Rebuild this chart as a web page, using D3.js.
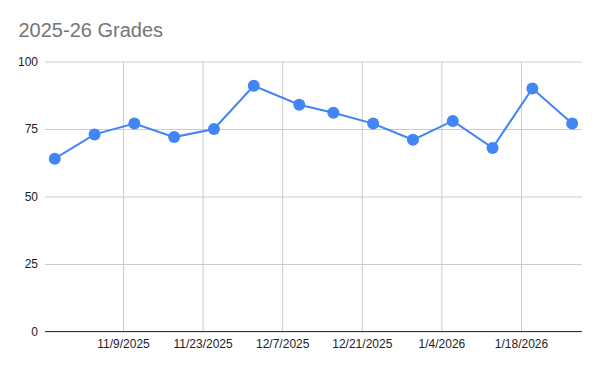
<!DOCTYPE html>
<html>
<head>
<meta charset="utf-8">
<script src="https://cdn.jsdelivr.net/npm/d3@7"></script>
<style>
  body { margin: 0; background: #fff; }
  text { font-family: "Liberation Sans", Arial, sans-serif; }
</style>
</head>
<body>
<div id="chart"></div>
<script>
// Data
var dates = ["2025-10-28", "2025-11-04", "2025-11-11", "2025-11-18", "2025-11-25", "2025-12-02",
  "2025-12-10", "2025-12-16", "2025-12-23", "2025-12-30", "2026-01-06", "2026-01-13",
  "2026-01-20", "2026-01-27"];
var grades = [64, 73, 77, 72, 75, 91, 84, 81, 77, 71, 78, 68, 90, 77];
var xTickDates = ["2025-11-09", "2025-11-23", "2025-12-07", "2025-12-21", "2026-01-04", "2026-01-18"];
var yTicks = [0, 25, 50, 75, 100];

var svgWidth = 600;
var svgHeight = 371;

var plot = { left: 45, right: 582, top: 61.5, bottom: 331.5 };

var parse = d3.utcParse("%Y-%m-%d");
var fmt = function(d) {
  return (d.getUTCMonth() + 1) + "/" + d.getUTCDate() + "/" + d.getUTCFullYear();
};

var svg = d3.select("#chart")
  .append("svg")
  .attr("width", svgWidth)
  .attr("height", svgHeight);

// title
svg.append("text")
  .attr("x", 18.5)
  .attr("y", 37)
  .attr("fill", "#757575")
  .style("font-size", "20px")
  .text("2025-26 Grades");

// x scale: calibrated so 11/9 and 1/18 sit on their gridlines
var xCal = d3.scaleUtc()
  .domain([parse(xTickDates[0]), parse(xTickDates[5])])
  .range([123, 521]);
var x = d3.scaleUtc()
  .domain([xCal.invert(plot.left), xCal.invert(plot.right)])
  .range([plot.left, plot.right]);

var y = d3.scaleLinear()
  .domain([0, 100])
  .range([plot.bottom, plot.top]);

// horizontal grid + y labels
var yAxis = d3.axisLeft(y)
  .tickValues(yTicks)
  .tickSize(-(plot.right - plot.left))
  .tickPadding(7);

var yg = svg.append("g")
  .attr("transform", `translate(${plot.left},0)`)
  .call(yAxis);
yg.select(".domain").remove();
yg.selectAll(".tick line").attr("stroke", "#cccccc");
yg.selectAll(".tick text")
  .attr("fill", "#222")
  .style("font-size", "12px")
  .style("font-family", "'Liberation Sans', Arial, sans-serif");

// vertical grid + x labels
var xAxis = d3.axisBottom(x)
  .tickValues(xTickDates.map(parse))
  .tickFormat(fmt)
  .tickSize(-(plot.bottom - plot.top))
  .tickPadding(8);

var xg = svg.append("g")
  .attr("transform", `translate(0,${plot.bottom})`)
  .call(xAxis);
xg.select(".domain").remove();
xg.selectAll(".tick line").attr("stroke", "#cccccc");
xg.selectAll(".tick text")
  .attr("fill", "#222")
  .style("font-size", "12px")
  .style("font-family", "'Liberation Sans', Arial, sans-serif");

// baseline
svg.append("line")
  .attr("x1", plot.left)
  .attr("x2", plot.right)
  .attr("y1", y(0))
  .attr("y2", y(0))
  .attr("stroke", "#333")
  .attr("stroke-width", 1);

var data = dates.map(function(d, i) { return { date: parse(d), grade: grades[i] }; });

var line = d3.line()
  .x(d => x(d.date))
  .y(d => y(d.grade));

svg.append("path")
  .datum(data)
  .attr("fill", "none")
  .attr("stroke", "#4285F4")
  .attr("stroke-width", 2)
  .attr("d", line);

svg.selectAll(".dot")
  .data(data)
  .enter()
  .append("circle")
  .attr("class", "dot")
  .attr("cx", d => x(d.date))
  .attr("cy", d => y(d.grade))
  .attr("r", 6)
  .attr("fill", "#4285F4");
</script>
</body>
</html>
